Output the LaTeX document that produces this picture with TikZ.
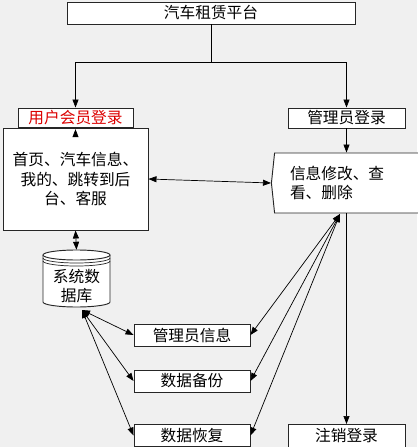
\documentclass[tikz,border=0pt]{standalone}
\usepackage{fontspec}
\setmainfont{Noto Sans CJK SC}
\usepackage{tikz}
\usetikzlibrary{arrows.meta,shapes.symbols,positioning}
\definecolor{bggray}{RGB}{240,240,240}
\definecolor{loginred}{RGB}{220,0,0}

\begin{document}
\begin{tikzpicture}[x=0.3mm,y=-0.3mm,
    box/.style={draw=black!85,line width=0.8pt,fill=white,inner sep=0pt,font=\fontsize{13.4}{16.6}\selectfont},
    link/.style={black,line width=0.6pt},
    tip/.style={-{Triangle[length=2.4mm,width=1.8mm]}},
    dtip/.style={{Triangle[length=2.4mm,width=1.8mm]}-{Triangle[length=2.4mm,width=1.8mm]}}]
    % Background
    \useasboundingbox (0,0) rectangle (417,447);
    \fill[bggray] (0,0) rectangle (417,447);

    % Top and login boxes
    \node[box,minimum width=86.4mm,minimum height=6.6mm] (platform) at (211,13) {汽车租赁平台};
    \node[box,minimum width=34.5mm,minimum height=5.7mm,text=loginred] (ulogin) at (75.5,117.5) {用户会员登录};
    \node[box,minimum width=35.1mm,minimum height=6mm] (alogin) at (346.5,118) {管理员登录};

    % Front pages
    \node[box,minimum width=43.5mm,minimum height=30.6mm,align=center] (home) at (75.5,179) {首页、汽车信息、\\我的、跳转到后\\台、客服};

    % Admin functions
    \node[box,signal,signal to=west,signal from=nowhere,signal pointer angle=168,
          minimum width=48mm,minimum height=18mm,text width=37.8mm,align=left] (edit) at (353,183) {信息修改、查\\看、删除};

    % Database cylinder
    \node[minimum width=20.1mm,minimum height=17.1mm,inner sep=0pt] (db) at (76.5,278.5) {};
    \fill[white] (43,255) -- (43,302) arc[start angle=180,end angle=0,x radius=33.5,y radius=5] -- (110,255) -- cycle;
    \draw[black!85,line width=0.8pt] (43,255) -- (43,302) arc[start angle=180,end angle=0,x radius=33.5,y radius=5] -- (110,255);
    \draw[black!85,line width=0.8pt,fill=white] (76.5,255) ellipse[x radius=33.5,y radius=5];
    \foreach \dy in {3,6}
        \draw[black!85,line width=0.6pt] (43,255+\dy) arc[start angle=180,end angle=0,x radius=33.5,y radius=5];
    \node[font=\fontsize{13.4}{16.6}\selectfont,align=center,inner sep=0pt] (dbtext) at (76.5,286) {系统数\\据库};

    % Lower boxes
    \foreach \name/\y/\txt in {ainfo/335/管理员信息, backup/381/数据备份, restore/435.5/数据恢复}
        \node[box,minimum width=34.8mm,minimum height=6.6mm] (\name) at (192,\y) {\txt};
    \node[box,minimum width=35.1mm,minimum height=6.9mm] (logout) at (346.5,436) {注销登录};

    % Connectors
    \draw[link,tip] (platform.south) -- ++(0,38) -| (ulogin.north);
    \draw[link,tip] (platform.south) ++(0,38) -| (alogin.north);
    \draw[link,tip] ([yshift=-2.6mm]home.north) -- ([yshift=-0.5mm]home.north);
    \draw[link,dtip] (home.south) -- (db.north);
    \draw[link,dtip] (home.east) -- (edit.west);
    \draw[link,tip] (alogin.south) -- (alogin.south |- edit.north);
    \draw[link,tip] (logout.north |- edit.south) -- (logout.north);

    % Fans to the lower boxes
    \coordinate (efan) at (340,214);
    \coordinate (dfan) at (82,310);
    \foreach \b in {ainfo,backup,restore} {
        \draw[link,dtip] (efan) -- (\b.east);
        \draw[link,dtip] (dfan) -- (\b.west);
    }
\end{tikzpicture}
\end{document}
